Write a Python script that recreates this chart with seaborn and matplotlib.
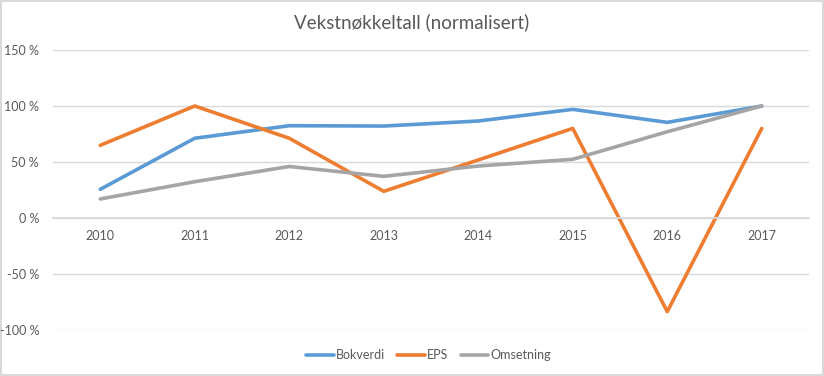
import matplotlib
matplotlib.use("Agg")
import matplotlib.pyplot as plt
import seaborn as sns
import pandas as pd
from matplotlib.ticker import FuncFormatter

years = ["2010", "2011", "2012", "2013", "2014", "2015", "2016", "2017"]
bokverdi = [25.6, 71.2, 82.4, 82.1, 86.6, 97.0, 85.4, 100.0]
eps = [64.9, 100.0, 71.2, 23.8, 51.8, 80.0, -83.6, 80.0]
omsetning = [17.0, 32.4, 46.0, 37.2, 46.4, 52.4, 77.0, 100.0]
series_names = ["Bokverdi", "EPS", "Omsetning"]
colors = ["#5B9BD5", "#ED7D31", "#A5A5A5"]
title = "Vekstnøkkeltall (normalisert)"

rows = []
for name, vals in zip(series_names, [bokverdi, eps, omsetning]):
    for y, v in zip(years, vals):
        rows.append({"År": y, "Verdi": v, "Serie": name})
df = pd.DataFrame(rows)

sns.set_theme(style="white")
plt.rcParams["font.family"] = ["Lato", "DejaVu Sans"]

fig = plt.figure(figsize=(8.24, 3.76), dpi=100)
fig.patch.set_facecolor("white")
fig.patch.set_edgecolor("#d9d9d9")
fig.patch.set_linewidth(1.5)
ax = fig.add_axes([53 / 824, 1 - 330 / 376, (809 - 53) / 824, (330 - 50) / 376])

sns.lineplot(data=df, x="År", y="Verdi", hue="Serie", palette=colors,
             linewidth=2.6, ax=ax, sort=False, legend=True)

ax.set_xlim(-0.5, 7.5)
ax.set_ylim(-100, 150)
ax.set_yticks([-100, -50, 0, 50, 100, 150])
ax.yaxis.set_major_formatter(FuncFormatter(lambda v, p: f"{int(v)} %"))
ax.grid(axis="y", color="#d9d9d9", linewidth=1)
ax.set_axisbelow(True)
for s in ["top", "right", "left"]:
    ax.spines[s].set_visible(False)
ax.spines["bottom"].set_position(("data", 0))
ax.spines["bottom"].set_color("#d9d9d9")
ax.tick_params(axis="both", length=0, labelsize=9, colors="#595959")
ax.tick_params(axis="y", pad=10)
ax.tick_params(axis="x", pad=9)
ax.set_xlabel("")
ax.set_ylabel("")

fig.text(0.5, 1 - 22 / 376, title, ha="center", va="center", fontsize=13.5,
         color="#595959")

leg = ax.legend(loc="center", bbox_to_anchor=(0.52, 1 - 355 / 376), bbox_transform=fig.transFigure,
                ncol=3, frameon=False, fontsize=9, handlelength=2.2,
                handletextpad=0.15, columnspacing=1.0)
for t in leg.get_texts():
    t.set_color("#595959")

fig.savefig("out.png", dpi=100, facecolor=fig.get_facecolor(), edgecolor=fig.get_edgecolor())
